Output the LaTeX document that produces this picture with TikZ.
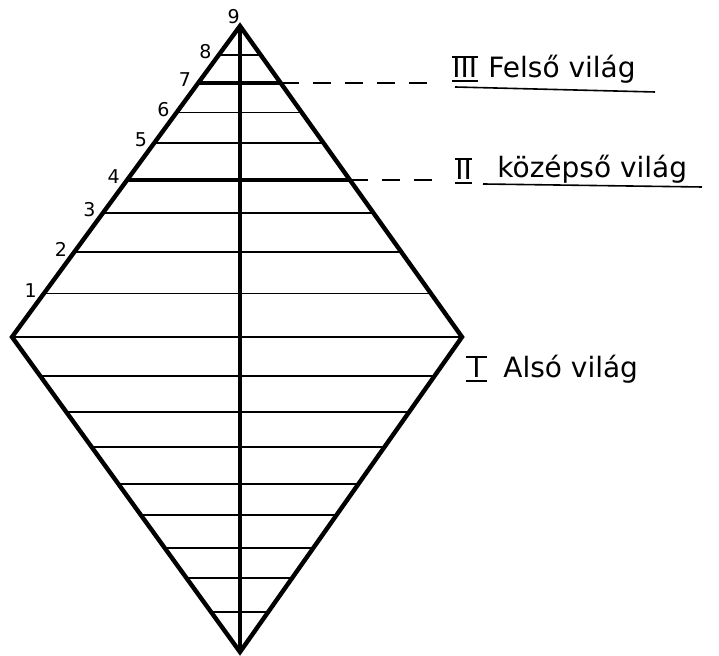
\documentclass[tikz,border=0pt]{standalone}
\usepackage{fontspec}
\newfontfamily\handfont{DejaVu Sans}
\usetikzlibrary{calc}
\tikzset{
    outline/.style={line width=2.2pt, line join=miter},
    axisline/.style={line width=2pt},
    rung/.style={line width=0.6pt},
    thickrung/.style={line width=2.4pt},
    leader/.style={line width=0.7pt, dash pattern=on 9pt off 7pt},
    ruleline/.style={line width=0.8pt},
    worldlabel/.style={font=\handfont\fontsize{14}{16}\selectfont, inner sep=0pt, anchor=base west},
    numlabel/.style={font=\handfont\fontsize{9.5}{11}\selectfont, inner sep=1pt},
    common settings/.style={x=0.5pt, y=-0.5pt}
}

\begin{document}
\begin{tikzpicture}[common settings]

    \useasboundingbox (0,0) rectangle (719,656);

    % Corners of the rhombus
    \coordinate (top) at (240,26);
    \coordinate (left) at (12,337);
    \coordinate (right) at (462,337);
    \coordinate (bottom) at (240,652);

    % Upper rungs 1--8 (fraction of the way down from the apex)
    \foreach \t/\s [count=\i] in {0.859/rung, 0.727/rung, 0.601/rung, 0.495/thickrung,
                                  0.376/rung, 0.277/rung, 0.183/thickrung, 0.093/rung} {
        \coordinate (l\i) at ($(top)!\t!(left)$);
        \coordinate (r\i) at ($(top)!\t!(right)$);
        \draw[\s] (l\i) -- (r\i);
        \node[numlabel, anchor=east, xshift=-2.5pt, yshift=1.5pt] (n\i) at (l\i) {\i};
    }
    \node[numlabel, anchor=south east, xshift=1pt, yshift=0pt] (n9) at (top) {9};

    % Base line and lower rungs
    \draw[rung] (left) -- (right);
    \foreach \t in {0.124, 0.238, 0.349, 0.467, 0.565, 0.670, 0.765, 0.873} {
        \draw[rung] ($(left)!\t!(bottom)$) -- ($(right)!\t!(bottom)$);
    }

    % Axis and outline
    \draw[axisline] (top) -- (bottom);
    \draw[outline] (top) -- (left) -- (bottom) -- (right) -- cycle;

    % III Felso vilag
    \node[worldlabel] (iii) at (452,78) {III};
    \node[worldlabel] (felso) at (488,78) {Felső világ};
    \draw[ruleline] (iii.north west) -- (iii.north east);
    \draw[ruleline] ([yshift=-1.5pt]iii.base west) -- ([yshift=-1.5pt]iii.base east);
    \draw[ruleline] (455,87) -- (655,92);
    \draw[leader, shorten >=7pt] (r7) -- (r7 -| iii.west);

    % II kozepso vilag
    \node[worldlabel] (ii) at (455,180) {II};
    \node[worldlabel] (kozepso) at (497,178) {középső világ};
    \draw[ruleline] (ii.north west) -- (ii.north east);
    \draw[ruleline] ([yshift=-1.5pt]ii.base west) -- ([yshift=-1.5pt]ii.base east);
    \draw[ruleline] (483,184) -- (702,187);
    \draw[leader, shorten >=8pt] (r4) -- (r4 -| ii.west);

    % I Also vilag
    \node[worldlabel] (i) at (472,378) {I};
    \node[worldlabel] (also) at (503,378) {Alsó világ};
    \draw[ruleline] ([xshift=-3pt]i.north west) -- ([xshift=3pt]i.north east);
    \draw[ruleline] ([xshift=-3pt, yshift=-1.5pt]i.base west) -- ([xshift=3pt, yshift=-1.5pt]i.base east);

\end{tikzpicture}
\end{document}
